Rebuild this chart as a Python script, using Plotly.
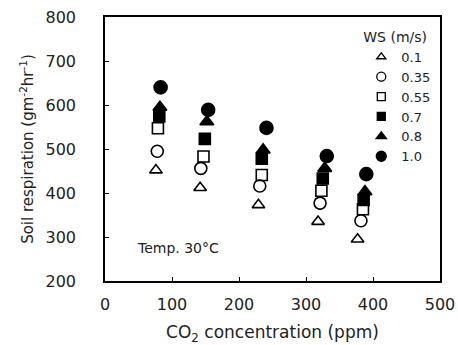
import plotly.graph_objects as go

ws_labels = ["0.1", "0.35", "0.55", "0.7", "0.8", "1.0"]
symbols = ["triangle-up-open", "circle-open", "square-open", "square", "triangle-up", "circle"]

x_ws01 = [76, 142, 229, 318, 377]
y_ws01 = [452, 412, 373, 335, 295]
x_ws035 = [78, 143, 231, 321, 382]
y_ws035 = [495, 456, 416, 377, 337]
x_ws055 = [79, 147, 234, 323, 385]
y_ws055 = [547, 483, 441, 405, 363]
x_ws07 = [81, 149, 234, 325, 386]
y_ws07 = [574, 523, 478, 433, 384]
x_ws08 = [82, 152, 236, 328, 388]
y_ws08 = [595, 562, 498, 456, 403]
x_ws10 = [83, 154, 241, 331, 390]
y_ws10 = [640, 589, 548, 484, 443]

xs = [x_ws01, x_ws035, x_ws055, x_ws07, x_ws08, x_ws10]
ys = [y_ws01, y_ws035, y_ws055, y_ws07, y_ws08, y_ws10]
sizes = [11, 12, 11, 11, 12, 13]
legend_sizes = [8, 9, 8, 8, 9, 10]

fig = go.Figure()
for lab, sym, x, y, s in zip(ws_labels, symbols, xs, ys, sizes):
    fig.add_trace(go.Scatter(
        x=x, y=y, mode="markers", name=lab, showlegend=False, legendgroup=lab,
        marker=dict(symbol=sym, size=s, color="black",
                    line=dict(color="black", width=1.6)),
    ))
# legend entries (smaller symbols, as in the original)
for lab, sym, s in zip(ws_labels, symbols, legend_sizes):
    fig.add_trace(go.Scatter(
        x=[None], y=[None], mode="markers", name=lab, legendgroup=lab,
        marker=dict(symbol=sym, size=s, color="black",
                    line=dict(color="black", width=1.3)),
    ))

font_family = "DejaVu Sans, Liberation Sans, Arial, sans-serif"
fig.update_layout(
    width=458, height=345,
    margin=dict(l=105, r=18, t=17, b=64, autoexpand=False),
    paper_bgcolor="white", plot_bgcolor="white",
    font=dict(family=font_family, color="#222", size=15),
    showlegend=True,
    legend=dict(
        title=dict(text="WS (m/s)", font=dict(size=14)),
        font=dict(size=13),
        x=0.765, y=0.975, xanchor="left", yanchor="top",
        bgcolor="rgba(0,0,0,0)", tracegroupgap=0,
        itemwidth=30, itemsizing="trace",
    ),
    xaxis=dict(
        range=[0, 500], tickvals=[0, 100, 200, 300, 400, 500],
        ticks="inside", ticklen=4, tickcolor="black",
        showline=True, linecolor="black", linewidth=1.5, mirror=True,
        showgrid=False, zeroline=False,
        tickfont=dict(size=16), ticklabelstandoff=8,
        title=dict(text="CO<sub>2</sub> concentration (ppm)", font=dict(size=17), standoff=15),
    ),
    yaxis=dict(
        range=[200, 800], tickvals=[200, 300, 400, 500, 600, 700, 800],
        ticks="inside", ticklen=4, tickcolor="black",
        showline=True, linecolor="black", linewidth=1.5, mirror=True,
        showgrid=False, zeroline=False,
        tickfont=dict(size=16), ticklabelstandoff=24,
        title=dict(text="Soil respiration (gm<sup>-2</sup>hr<sup>-1</sup>)", font=dict(size=15), standoff=8),
    ),
    annotations=[dict(
        text="Temp. 30°C", x=0.09, y=0.125, xref="paper", yref="paper",
        xanchor="left", yanchor="middle", showarrow=False, font=dict(size=14),
    )],
)

fig.write_html("out.html", config={"displayModeBar": False},
               post_script="document.body.style.margin='0px';")
